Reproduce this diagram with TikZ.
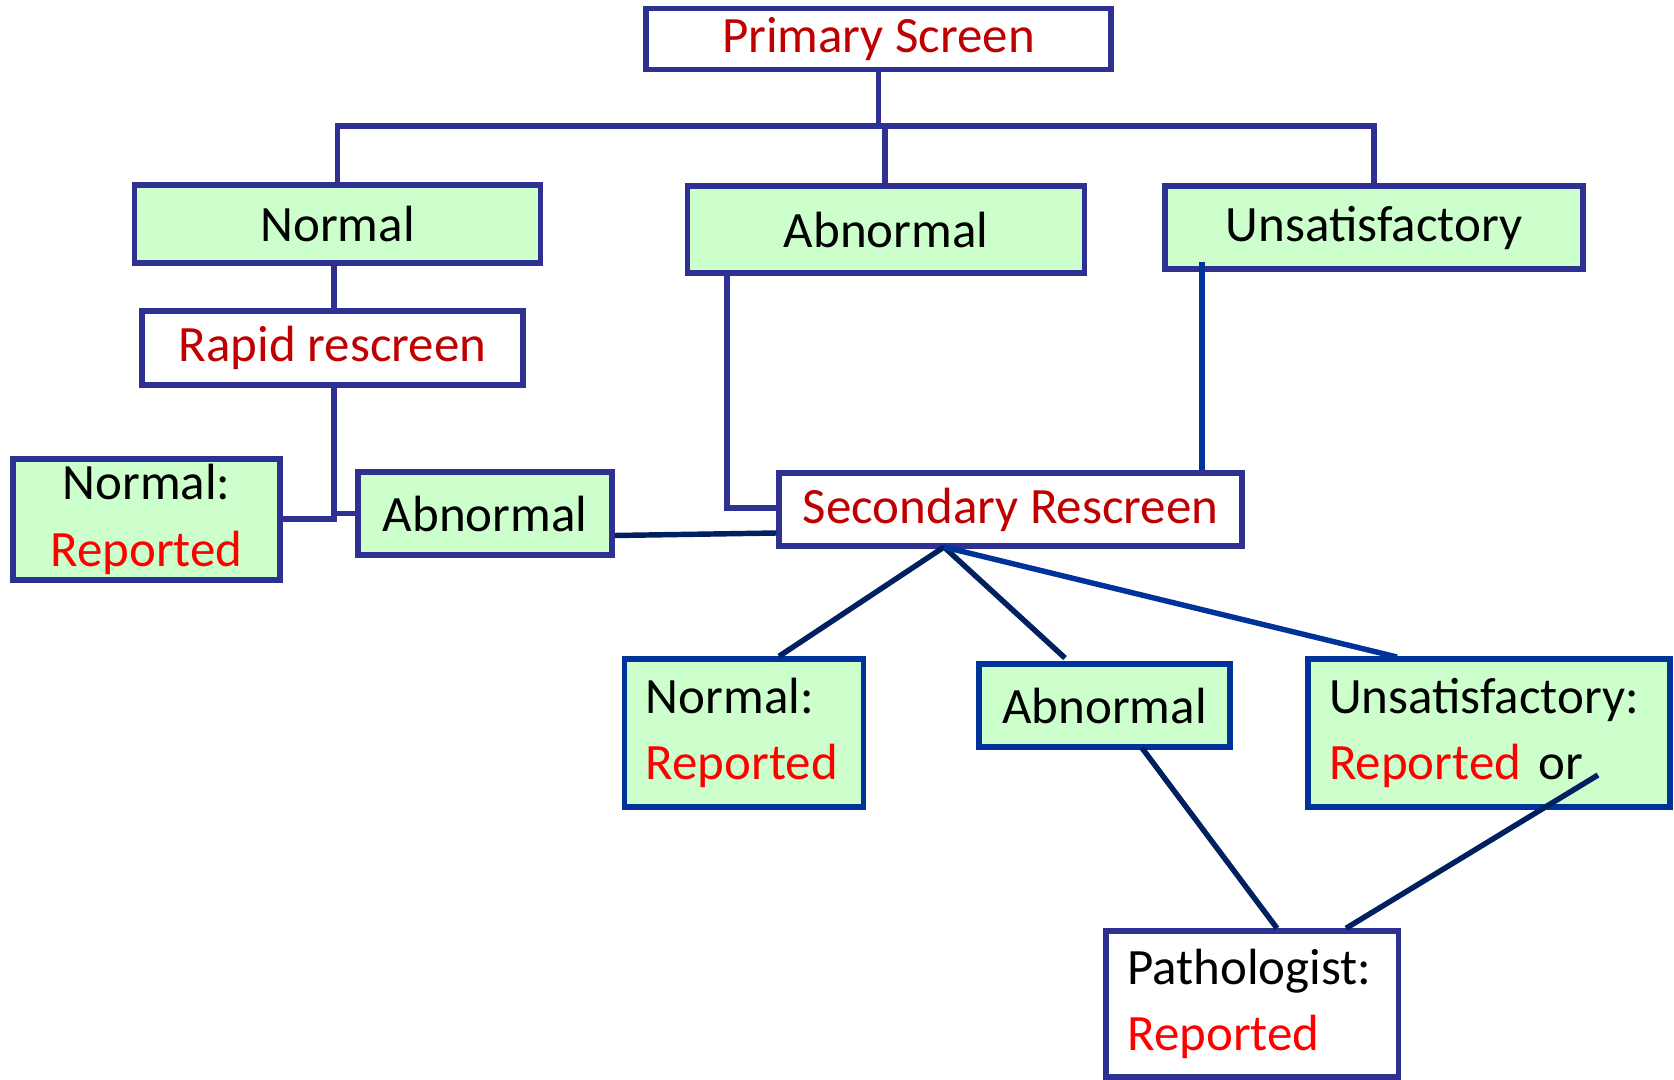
\documentclass[tikz,border=0pt]{standalone}
\usepackage{fontspec}
\setmainfont{Carlito}
\usepackage{tikz}
\usetikzlibrary{positioning, calc}
\definecolor{myindigo}{RGB}{46,49,146}
\definecolor{myblue}{RGB}{0,51,153}
\definecolor{mynavy}{RGB}{0,32,96}
\definecolor{mygreen}{RGB}{204,255,204}
\definecolor{mydarkred}{RGB}{192,0,0}
\definecolor{myred}{RGB}{255,0,0}
\tikzset{
  whitebox/.style={rectangle, draw=myindigo, fill=white, line width=3.1pt,
    inner sep=0pt, font=\fontsize{29}{38}\selectfont\color{mydarkred}},
  greenbox/.style={rectangle, draw=myindigo, fill=mygreen, line width=3.1pt,
    inner sep=0pt, font=\fontsize{29}{38}\selectfont},
  bluebox/.style={greenbox, draw=myblue},
  line/.style={line width=3.1pt, color=myindigo},
  navyline/.style={line width=3.1pt, color=mynavy},
  blueline/.style={line width=3.1pt, color=myblue}
}
\newcommand{\rep}{\textcolor{myred}{Reported}}

\begin{document}
\begin{tikzpicture}[x=0.02cm, y=-0.02cm]
  \useasboundingbox (0,0) rectangle (1674,1079);
  % top level
  \node[whitebox, minimum width=9.3cm, minimum height=1.22cm] (prim) at (878.5,39) {Primary Screen};
  \node[greenbox, minimum width=8.12cm, minimum height=1.56cm] (norm) at (337.5,224) {Normal};
  \node[greenbox, minimum width=7.94cm, minimum height=1.74cm] (abn) at (886,229.5) {Abnormal};
  \node[greenbox, minimum width=8.36cm, minimum height=1.66cm] (unsat) at (1374,227.5) {Unsatisfactory};
  \node[whitebox, minimum width=7.62cm, minimum height=1.48cm] (rapid) at (332.5,348) {Rapid rescreen};
  \node[greenbox, minimum width=5.34cm, minimum height=2.42cm, align=center] (normrep) at (146.5,519.5) {Normal:\\\rep};
  \node[greenbox, minimum width=5.08cm, minimum height=1.66cm] (abnleft) at (485,513.5) {Abnormal};
  \node[whitebox, minimum width=9.26cm, minimum height=1.46cm] (sec) at (1010.5,509.5) {Secondary Rescreen};
  % second level
  \node[bluebox, minimum width=4.79cm, minimum height=2.96cm, text width=3.93cm, align=left] (normrep2) at (744,733) {Normal:\\\rep};
  \node[bluebox, minimum width=5.02cm, minimum height=1.66cm] (abn2) at (1104.5,705.5) {Abnormal};
  \node[bluebox, minimum width=7.24cm, minimum height=2.96cm, text width=6.4cm, align=left] (unsat2) at (1489,733) {Unsatisfactory:\\\rep{} or};
  \node[whitebox, minimum width=5.85cm, minimum height=2.92cm, text width=4.99cm, align=left, font=\fontsize{29}{38}\selectfont] (path) at (1252,1004) {Pathologist:\\\rep};

  % bus from primary screen
  \coordinate (bus) at (878.5,126);
  \coordinate (abnup) at (885,126);
  \draw[line] (prim.south) -- (bus);
  \draw[line] (norm.north) |- (bus) -| (unsat.north);
  \draw[line] (abn.north -| abnup) -- (abnup);
  % left branch
  \coordinate (rapidx) at (334,385);
  \coordinate (join) at (334,519);
  \coordinate (stub) at (334,513.5);
  \draw[line] (norm.south -| rapidx) -- (rapid.north -| rapidx);
  \draw[line] (rapidx) -- (join) -- (normrep.east |- join);
  \draw[line] (stub) -- (abnleft.west);
  \draw[navyline] ([yshift=-0.44cm]abnleft.east) -- ([yshift=-0.47cm]sec.west);
  % into secondary rescreen
  \coordinate (abnx) at (727,273);
  \coordinate (unsatx) at (1202,262);
  \draw[line] (abn.south -| abnx) |- ([yshift=0.03cm]sec.west);
  \draw[blueline] (unsatx) -- (sec.north -| unsatx);
  % out of secondary rescreen
  \coordinate (split) at (944,547);
  \coordinate (abn2top) at (1065,658);
  \coordinate (unsat2top) at (1397,657);
  \coordinate (abn2bot) at (1142,748);
  \coordinate (unsat2in) at (1598,775);
  \draw[navyline] (split) -- (normrep2.north -| 779,0);
  \draw[navyline] (split) -- (abn2top);
  \draw[blueline] (split) -- (unsat2top);
  \draw[navyline] (abn2bot) -- ([xshift=0.5cm]path.north);
  \draw[navyline] (unsat2in) -- ([xshift=1.88cm]path.north);
\end{tikzpicture}
\end{document}
